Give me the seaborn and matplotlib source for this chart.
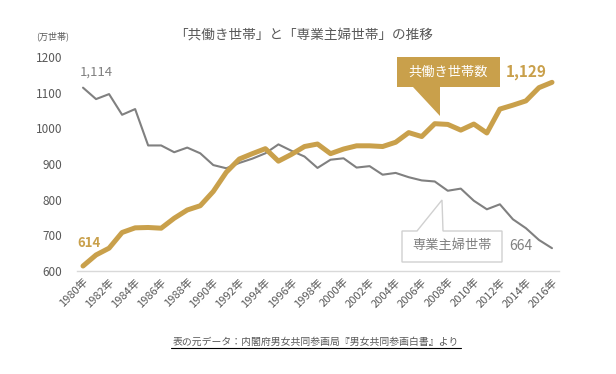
import matplotlib
matplotlib.use('Agg')
import matplotlib.pyplot as plt
import matplotlib.patches as mpatches
from matplotlib.lines import Line2D
import seaborn as sns
import pandas as pd

# Data (万世帯)
years = list(range(1980, 2017))
dual_income = [614, 645, 664, 708, 721, 722, 720, 748, 771, 783,
               823, 877, 914, 929, 943, 908, 927, 949, 956, 929,
               942, 951, 951, 949, 961, 988, 977, 1013, 1011, 995,
               1012, 987, 1054, 1065, 1077, 1114, 1129]
housewife = [1114, 1082, 1096, 1038, 1054, 952, 952, 933, 946, 930,
             897, 888, 903, 915, 930, 955, 937, 921, 889, 912,
             916, 890, 894, 870, 875, 863, 854, 851, 825, 831,
             797, 773, 787, 745, 720, 687, 664]
yticks = [600, 700, 800, 900, 1000, 1100, 1200]

sns.set_style('white')
plt.rcParams['font.family'] = ['Noto Sans CJK JP', 'DejaVu Sans']

gold = '#C9A04B'
grey = '#808080'
txt = '#595959'

df = pd.DataFrame({'idx': range(len(years)), 'dual': dual_income, 'house': housewife})

W, H = 616, 374
fig = plt.figure(figsize=(W / 100, H / 100), dpi=100)
ax = fig.add_axes([76.5 / W, 1 - 271 / H, 482 / W, 214 / H])

sns.lineplot(data=df, x='idx', y='house', ax=ax, color=grey, linewidth=1.5)
sns.lineplot(data=df, x='idx', y='dual', ax=ax, color=gold, linewidth=3.6)

ax.set_xlim(-0.5, len(years) - 0.5)
ax.set_ylim(600, 1200)
ax.set_yticks(yticks)
ax.set_yticklabels([str(v) for v in yticks], fontsize=8.5, color=txt)
ax.set_xticks(list(range(0, len(years), 2)))
ax.set_xticklabels([f'{y}年' for y in years[::2]], rotation=45, ha='right',
                   rotation_mode='anchor', fontsize=8, color=txt)
ax.tick_params(length=0)
ax.tick_params(axis='y', pad=10)
ax.tick_params(axis='x', pad=4)
ax.set_xlabel('')
ax.set_ylabel('')
for s in ['top', 'right', 'left']:
    ax.spines[s].set_visible(False)
ax.spines['bottom'].set_color('#d9d9d9')
ax.spines['bottom'].set_linewidth(1)


def px(x, y):
    return (x / W, 1 - y / H)


# title and unit
fig.text(*px(304, 36), '「共働き世帯」と「専業主婦世帯」の推移', ha='center', va='center',
         fontsize=9.8, color=txt)
fig.text(*px(53, 36), '(万世帯)', ha='center', va='center', fontsize=6.5, color=txt)

# end labels
fig.text(*px(96, 72), f'{housewife[0]:,}', ha='center', va='center', fontsize=9.5, color=grey)
fig.text(*px(89, 243), f'{dual_income[0]:,}', ha='center', va='center', fontsize=9.5,
         color=gold, fontweight='bold')
fig.text(*px(526, 72), f'{dual_income[-1]:,}', ha='center', va='center', fontsize=11,
         color=gold, fontweight='bold')
fig.text(*px(521, 246), f'{housewife[-1]:,}', ha='center', va='center', fontsize=10, color=grey)

# gold callout
gold_pts = [px(397, 57), px(500, 57), px(500, 87), px(440, 87), px(440, 116),
            px(413, 87), px(397, 87)]
fig.patches.append(mpatches.Polygon(gold_pts, closed=True, facecolor=gold, edgecolor='none',
                                    transform=fig.transFigure, figure=fig))
fig.text(*px(448, 72), '共働き世帯数', ha='center', va='center', fontsize=9.5, color='white')

# grey callout
grey_pts = [px(402, 231), px(417, 231), px(442, 200), px(443, 231), px(502, 231),
            px(502, 262), px(402, 262)]
fig.patches.append(mpatches.Polygon(grey_pts, closed=True, facecolor='white', edgecolor='#d0d0d0',
                                    linewidth=1, transform=fig.transFigure, figure=fig))
fig.text(*px(452, 246), '専業主婦世帯', ha='center', va='center', fontsize=9.5, color=grey)

# source
fig.text(*px(316, 342), '表の元データ：内閣府男女共同参画局『男女共同参画白書』より',
         ha='center', va='center', fontsize=7.1, color=txt)
fig.lines.append(Line2D([171 / W, 461 / W], [1 - 348 / H, 1 - 348 / H], color='black',
                        linewidth=0.8, transform=fig.transFigure, figure=fig))

fig.savefig('out.png', dpi=100)
